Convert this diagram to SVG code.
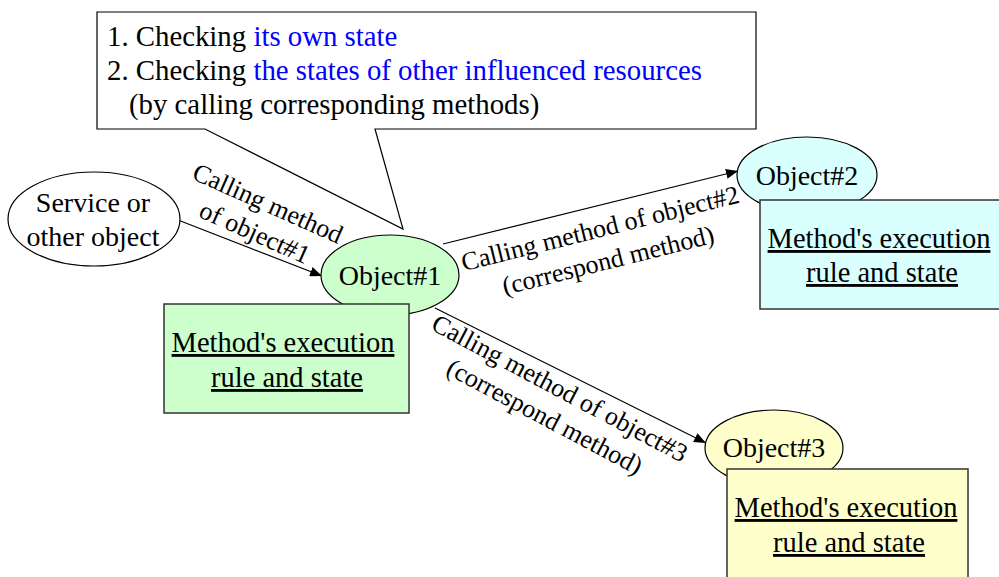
<svg xmlns="http://www.w3.org/2000/svg" width="999" height="577" viewBox="0 0 999 577" font-family="'Liberation Serif', 'Times New Roman', serif">
  <style>
    text { font-family: "Liberation Serif", "Times New Roman", serif; fill: #000; }
    .main { font-size: 28px; text-anchor: middle; }
    .note { font-size: 28.8px; }
    .blue { fill: #0000ff; }
    .lbl { font-size: 26px; text-anchor: middle; }
    .rule { font-size: 28.5px; text-anchor: middle; text-decoration: underline; }
    .shape { stroke: #000; stroke-width: 1.2; }
    .box { stroke: #333; stroke-width: 1.5; }
    .edge { stroke: #000; stroke-width: 1.2; fill: none; marker-end: url(#arrow); }
  </style>
  <defs>
    <marker id="arrow" viewBox="0 0 12 10" refX="12" refY="5" markerWidth="12" markerHeight="10" markerUnits="userSpaceOnUse" orient="auto">
      <path d="M0,0 L12,5 L0,10 Z" fill="#000"/>
    </marker>
  </defs>

  <rect width="999" height="577" fill="#fff"/>

  <!-- callout note -->
  <g id="callout">
    <path class="shape" fill="#fff" d="M97,12 H756 V129 H375 L403,229 L205,129 H97 Z"/>
    <text class="note" x="107" y="46">1. Checking <tspan class="blue">its own state</tspan></text>
    <text class="note" x="107" y="80">2. Checking <tspan class="blue">the states of other influenced resources</tspan></text>
    <text class="note" x="129" y="114">(by calling corresponding methods)</text>
  </g>

  <!-- connectors -->
  <g id="connectors">
    <line class="edge" x1="178" y1="220" x2="322" y2="276"/>
    <line class="edge" x1="443" y1="244" x2="738" y2="171"/>
    <line class="edge" x1="435" y1="308" x2="706" y2="443"/>
    <g transform="translate(268,203) rotate(24)">
      <text class="lbl" x="0" y="9">Calling method</text>
      <text class="lbl" x="0" y="41">of object#1</text>
    </g>
    <g transform="translate(600,228) rotate(-14)">
      <text class="lbl" x="0" y="9">Calling method of object#2</text>
      <text class="lbl" x="0" y="42">(correspond method)</text>
    </g>
    <g transform="translate(560,388) rotate(28)">
      <text class="lbl" x="0" y="9">Calling method of object#3</text>
      <text class="lbl" x="0" y="41">(correspond method)</text>
    </g>
  </g>

  <g id="caller">
    <ellipse class="shape" cx="94" cy="219" rx="86" ry="47" fill="#fff"/>
    <text class="main" x="93" y="212">Service or</text>
    <text class="main" x="93" y="246">other object</text>
  </g>

  <g id="object1">
    <ellipse class="shape" cx="390" cy="275" rx="69" ry="40" fill="#ccffcc"/>
    <text class="main" x="390" y="285">Object#1</text>
    <rect class="box" x="164" y="304" width="245" height="109" fill="#ccffcc"/>
    <text class="rule" x="283" y="352">Method's execution</text>
    <text class="rule" x="287" y="387">rule and state</text>
  </g>

  <g id="object2">
    <ellipse class="shape" cx="807" cy="175" rx="70" ry="38" fill="#d9ffff"/>
    <text class="main" x="807" y="185">Object#2</text>
    <rect class="box" x="760" y="200" width="245" height="109" fill="#d9ffff"/>
    <text class="rule" x="879" y="248">Method's execution</text>
    <text class="rule" x="882" y="282">rule and state</text>
  </g>

  <g id="object3">
    <ellipse class="shape" cx="774" cy="448" rx="69" ry="38" fill="#ffffcc"/>
    <text class="main" x="774" y="457">Object#3</text>
    <rect class="box" x="727" y="469" width="241" height="120" fill="#ffffcc"/>
    <text class="rule" x="846" y="517">Method's execution</text>
    <text class="rule" x="849" y="552">rule and state</text>
  </g>
</svg>
